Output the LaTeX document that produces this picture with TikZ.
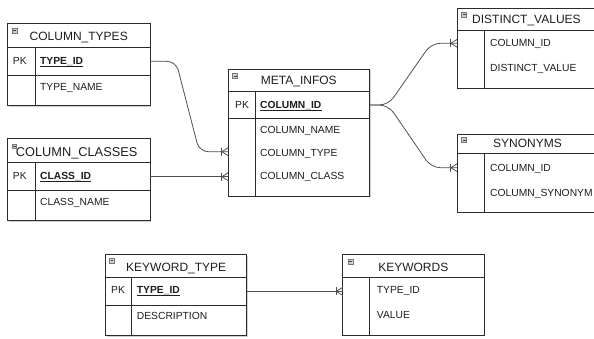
\documentclass[tikz,border=0pt]{standalone}
\usepackage{fontspec}
\setmainfont{Liberation Sans}
\usetikzlibrary{shadows}

\definecolor{edgec}{HTML}{2B2B2B}
\definecolor{connc}{HTML}{505050}
\definecolor{txtc}{HTML}{1E1E1E}
\definecolor{iconfill}{HTML}{CFCFCF}
\definecolor{iconline}{HTML}{777777}

\tikzset{
  tablebox/.style={draw=edgec, line width=0.8pt, fill=white, anchor=north west,
    inner sep=0pt, outer sep=0pt,
    drop shadow={shadow xshift=1.2pt, shadow yshift=-1.2pt, fill=black, opacity=0.18}},
  rowbox/.style={anchor=north west, inner sep=0pt, outer sep=0pt},
  sep/.style={draw=edgec, line width=0.8pt},
  ttl/.style={font=\fontsize{12}{14}\selectfont, anchor=base, inner sep=0pt, text=txtc},
  fld/.style={font=\fontsize{10.3}{12}\selectfont, anchor=base west, inner sep=0pt, text=txtc},
  keyfld/.style={font=\fontsize{10.3}{12}\selectfont\bfseries, anchor=base west, inner sep=0pt, text=txtc},
  keyline/.style={draw=txtc, line width=0.6pt},
  conn/.style={draw=connc, line width=0.8pt, rounded corners=9pt},
  minusicon/.pic={
    \draw[draw=iconline, fill=iconfill, line width=0.5pt] (0,0) rectangle (5,5);
    \draw[black!75, line width=0.7pt] (1.2,2.5) -- (3.8,2.5);
  },
  crowfoot/.pic={
    \draw[connc, line width=0.8pt] (-6.5,-4) -- (-6.5,4);
    \draw[connc, line width=0.8pt] (0,-4) -- (-6.5,0) -- (0,4);
  },
}

\begin{document}
\begin{tikzpicture}[x=1pt, y=-1pt]
\useasboundingbox (0,0) rectangle (594,339);
\clip (0,0) rectangle (594,339);

% ---------- COLUMN_TYPES ----------
\node[tablebox, minimum width=142.5pt, minimum height=82.2pt] (ct) at (7.5,23.5) {};
\node[rowbox, minimum width=142.5pt, minimum height=27.3pt] (ct-pk) at ([yshift=-24.2pt]ct.north west) {};
\draw[sep] (ct-pk.north west) -- (ct-pk.north east) (ct-pk.south west) -- (ct-pk.south east);
\draw[sep] ([xshift=27.5pt]ct-pk.north west) -- ([xshift=27.5pt]ct.south west);
\pic at ([shift={(4.5,4.5)}]ct.north west) {minusicon};
\node[ttl] (ct-name) at (78.75,41) {COLUMN\_TYPES};
\node[fld] (ct-pkl) at (12.7,64.7) {PK};
\node[keyfld] (ct-key) at (40,64.7) {TYPE\_ID};
\draw[keyline] ([yshift=-1.8pt]ct-key.base west) -- ([yshift=-1.8pt]ct-key.base east);
\node[fld] (ct-f1) at (40,90.5) {TYPE\_NAME};

% ---------- COLUMN_CLASSES ----------
\node[tablebox, minimum width=142.5pt, minimum height=82.4pt] (cc) at (7.5,138.3) {};
\node[rowbox, minimum width=142.5pt, minimum height=28pt] (cc-pk) at ([yshift=-24.4pt]cc.north west) {};
\draw[sep] (cc-pk.north west) -- (cc-pk.north east) (cc-pk.south west) -- (cc-pk.south east);
\draw[sep] ([xshift=27.5pt]cc-pk.north west) -- ([xshift=27.5pt]cc.south west);
\draw[draw=iconline, fill=iconfill, line width=0.5pt] (12.5,143.8) rectangle (16.7,148);
\draw[black!75, line width=0.6pt] (13.4,145.9) -- (15.8,145.9);
\node[ttl, anchor=base west, font=\fontsize{12.8}{15}\selectfont] (cc-name) at (15.6,156.6) {COLUMN\_CLASSES};
\node[fld] (cc-pkl) at (12.7,179.3) {PK};
\node[keyfld] (cc-key) at (40,179.3) {CLASS\_ID};
\draw[keyline] ([yshift=-1.8pt]cc-key.base west) -- ([yshift=-1.8pt]cc-key.base east);
\node[fld] (cc-f1) at (40,205) {CLASS\_NAME};

% ---------- META_INFOS ----------
\node[tablebox, minimum width=141pt, minimum height=126.7pt] (mi) at (228.3,69.3) {};
\node[rowbox, minimum width=141pt, minimum height=26.6pt] (mi-pk) at ([yshift=-22.4pt]mi.north west) {};
\draw[sep] (mi-pk.north west) -- (mi-pk.north east) (mi-pk.south west) -- (mi-pk.south east);
\draw[sep] ([xshift=26.7pt]mi-pk.north west) -- ([xshift=26.7pt]mi.south west);
\pic at ([shift={(4.4,4.2)}]mi.north west) {minusicon};
\node[ttl] (mi-name) at (298.8,85) {META\_INFOS};
\node[fld] (mi-pkl) at (235,108.3) {PK};
\node[keyfld] (mi-key) at (260,108.3) {COLUMN\_ID};
\draw[keyline] ([yshift=-1.8pt]mi-key.base west) -- ([yshift=-1.8pt]mi-key.base east);
\node[fld] (mi-f1) at (260,133.3) {COLUMN\_NAME};
\node[fld] (mi-f2) at (260,156.5) {COLUMN\_TYPE};
\node[fld] (mi-f3) at (260,179.5) {COLUMN\_CLASS};

% ---------- DISTINCT_VALUES ----------
\node[tablebox, minimum width=142.7pt, minimum height=80pt] (dv) at (457.3,8.3) {};
\draw[sep] ([yshift=-22.4pt]dv.north west) -- ([yshift=-22.4pt]dv.north east);
\draw[sep] ([shift={(26.7pt,-22.4pt)}]dv.north west) -- ([xshift=26.7pt]dv.south west);
\pic at ([shift={(4.4,3.6)}]dv.north west) {minusicon};
\node[ttl, anchor=base west] (dv-name) at (472,24) {DISTINCT\_VALUES};
\node[fld] (dv-f1) at (490,47) {COLUMN\_ID};
\node[fld] (dv-f2) at (490,72) {DISTINCT\_VALUE};

% ---------- SYNONYMS ----------
\node[tablebox, minimum width=142.7pt, minimum height=78pt] (sy) at (457.3,134) {};
\draw[sep] ([yshift=-19.3pt]sy.north west) -- ([yshift=-19.3pt]sy.north east);
\draw[sep] ([shift={(26.7pt,-19.3pt)}]sy.north west) -- ([xshift=26.7pt]sy.south west);
\pic at ([shift={(4.4,3.4)}]sy.north west) {minusicon};
\node[ttl, anchor=base west] (sy-name) at (493,147.3) {SYNONYMS};
\node[fld] (sy-f1) at (490,171.3) {COLUMN\_ID};
\node[fld] (sy-f2) at (490,196.3) {COLUMN\_SYNONYM};

% ---------- KEYWORD_TYPE ----------
\node[tablebox, minimum width=141pt, minimum height=81.4pt] (kt) at (105.7,254.3) {};
\node[rowbox, minimum width=141pt, minimum height=27.3pt] (kt-pk) at ([yshift=-23.4pt]kt.north west) {};
\draw[sep] (kt-pk.north west) -- (kt-pk.north east) (kt-pk.south west) -- (kt-pk.south east);
\draw[sep] ([xshift=25.3pt]kt-pk.north west) -- ([xshift=25.3pt]kt.south west);
\pic at ([shift={(3.8,4)}]kt.north west) {minusicon};
\node[ttl] (kt-name) at (176.2,271.7) {KEYWORD\_TYPE};
\node[fld] (kt-pkl) at (111,293.7) {PK};
\node[keyfld] (kt-key) at (136.7,293.7) {TYPE\_ID};
\draw[keyline] ([yshift=-1.8pt]kt-key.base west) -- ([yshift=-1.8pt]kt-key.base east);
\node[fld] (kt-f1) at (136.7,319.4) {DESCRIPTION};

% ---------- KEYWORDS ----------
\node[tablebox, minimum width=141.3pt, minimum height=80.7pt] (kw) at (342.7,254.3) {};
\draw[sep] ([yshift=-23.4pt]kw.north west) -- ([yshift=-23.4pt]kw.north east);
\draw[sep] ([shift={(26.6pt,-23.4pt)}]kw.north west) -- ([xshift=26.6pt]kw.south west);
\pic at ([shift={(5.2,4.5)}]kw.north west) {minusicon};
\node[ttl] (kw-name) at (413.3,271.7) {KEYWORDS};
\node[fld] (kw-f1) at (376.7,293.7) {TYPE\_ID};
\node[fld] (kw-f2) at (376.7,318.7) {VALUE};

% ---------- relationship ends ----------
\coordinate (mi-in1) at (mi.west |- 0,151.7);
\coordinate (mi-in2) at (mi.west |- cc-pk.east);
\coordinate (dv-in) at (dv.west |- 0,43.3);
\coordinate (sy-in) at (sy.west |- 0,167.7);
\coordinate (kw-in) at (kw.west |- kt-pk.east);

% ---------- relationships ----------
\draw[conn] (ct-pk.east) -- ++(26,0) -- ([xshift=-29pt]mi-in1) -- (mi-in1);
\draw[conn] (cc-pk.east) -- (mi-in2);
\draw[conn] (mi-pk.east) -- ++(19,0) -- ([xshift=-26pt]dv-in) -- (dv-in);
\draw[conn] (mi-pk.east) -- ++(19,0) -- ([xshift=-26pt]sy-in) -- (sy-in);
\draw[conn] (kt-pk.east) -- (kw-in);

\pic at (mi-in1) {crowfoot};
\pic at (mi-in2) {crowfoot};
\pic at (dv-in) {crowfoot};
\pic at (sy-in) {crowfoot};
\pic at (kw-in) {crowfoot};
\end{tikzpicture}
\end{document}
